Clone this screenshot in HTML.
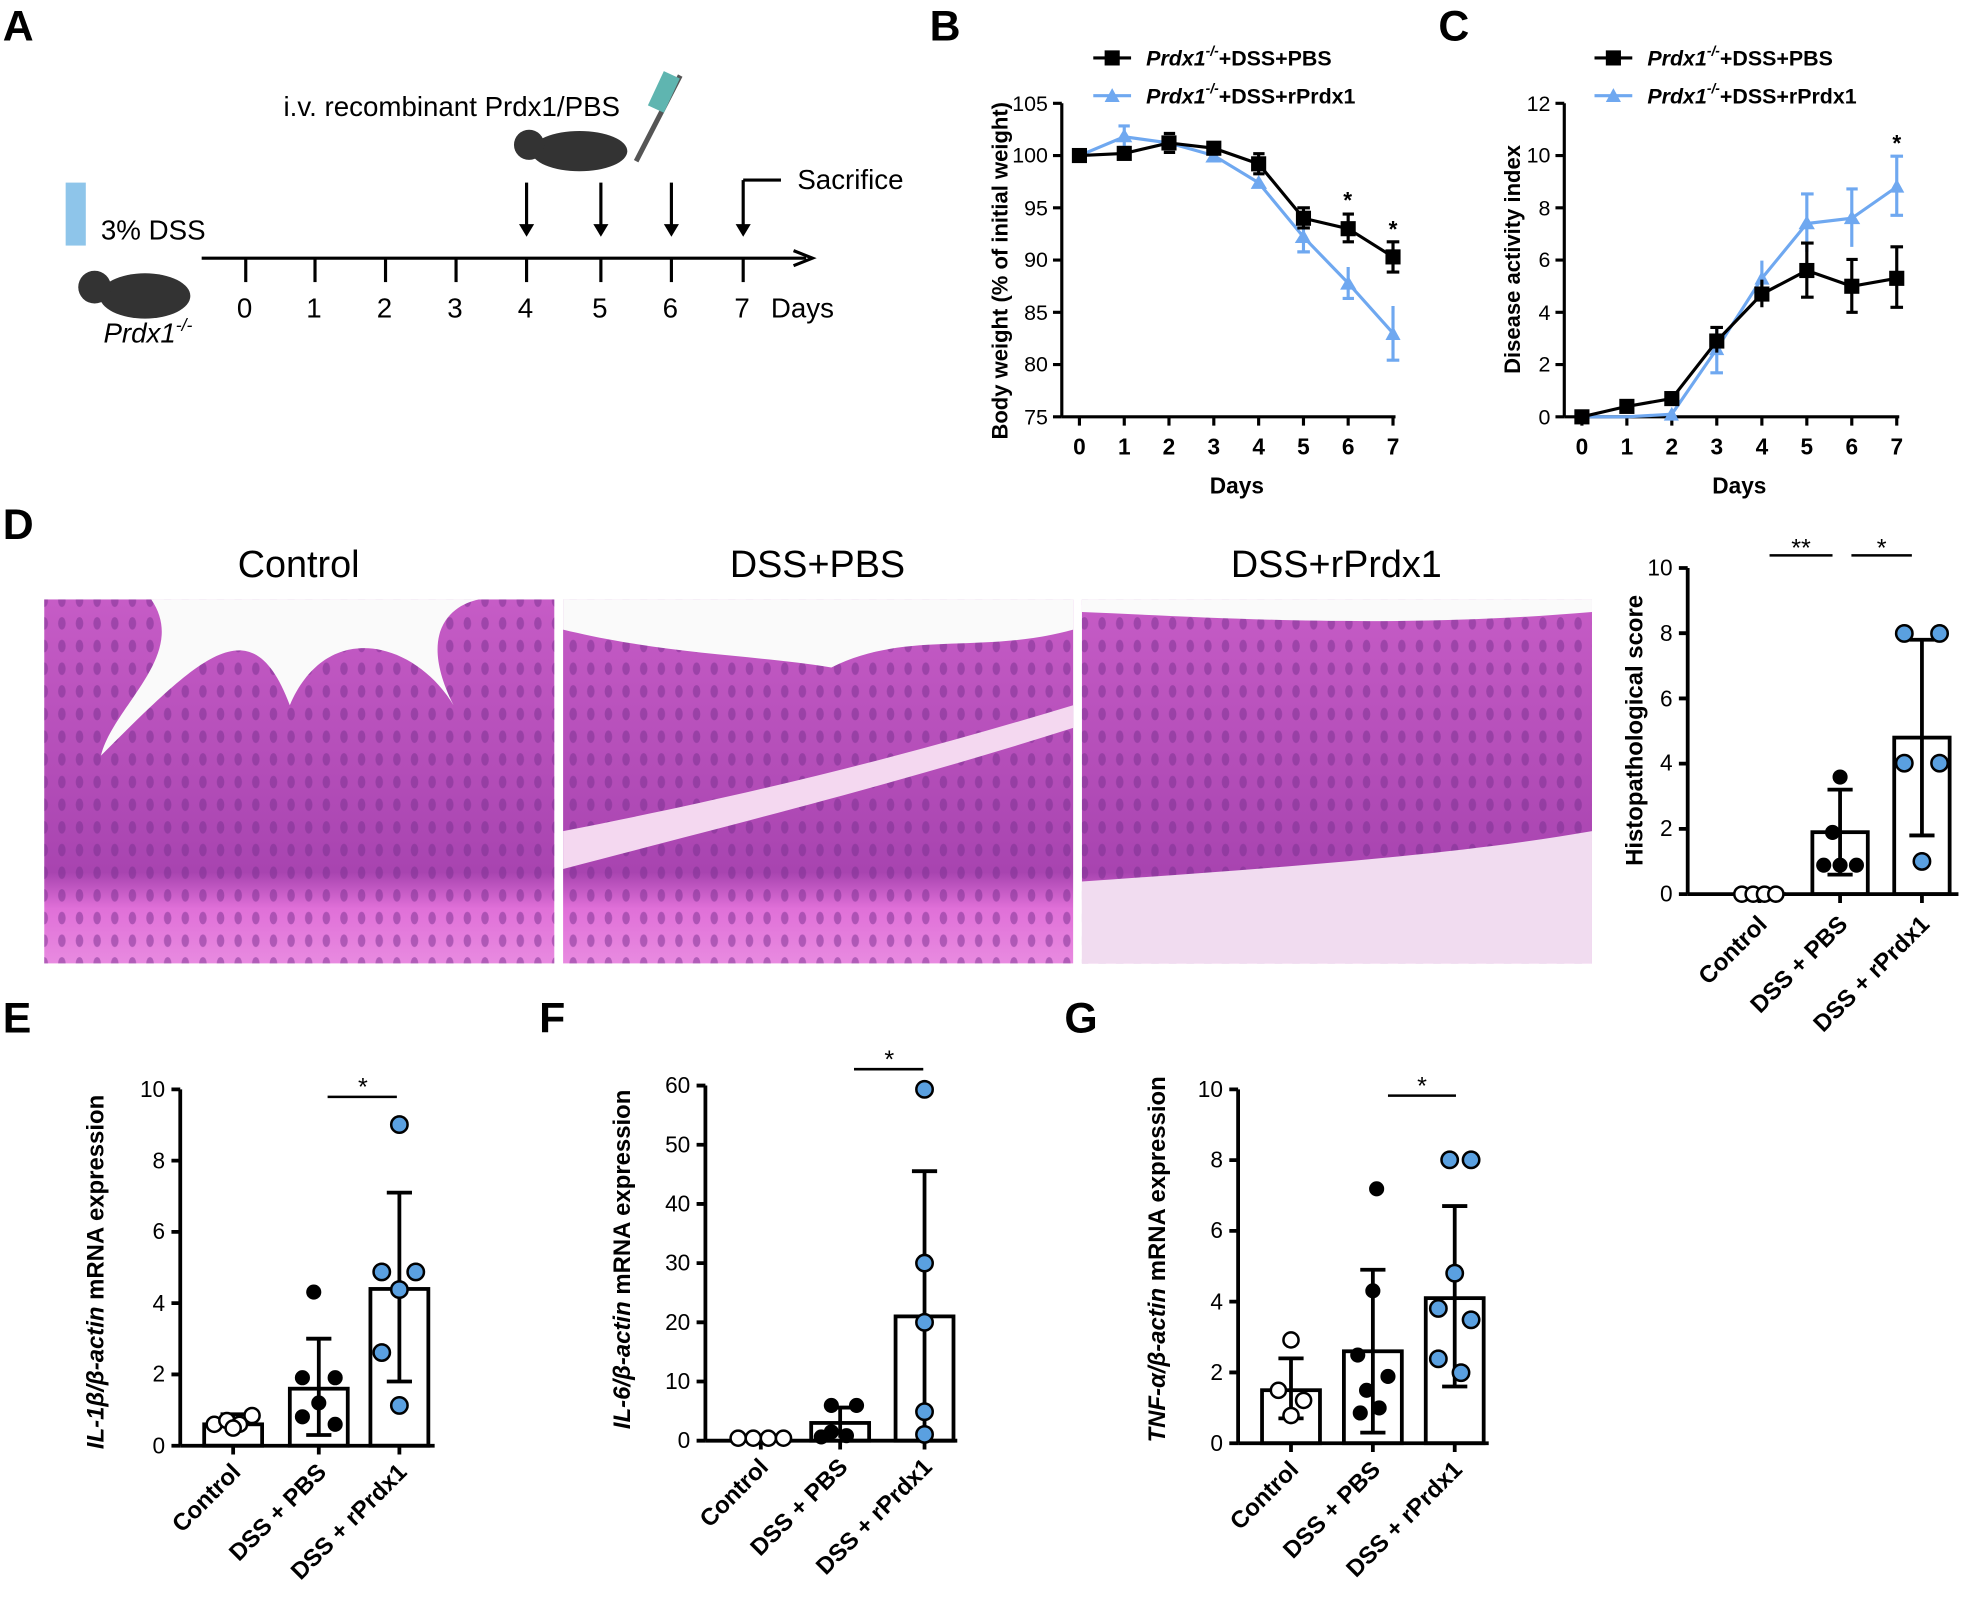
<!DOCTYPE html>
<html><head><meta charset="utf-8"><style>
html,body{margin:0;padding:0;background:#fff}
svg{display:block}
text{font-family:"Liberation Sans",Arial,sans-serif}
</style></head><body>
<svg width="1975" height="1617" viewBox="0 0 1568 1284" xmlns="http://www.w3.org/2000/svg">
<defs>
<linearGradient id="he" x1="0" y1="0" x2="0" y2="1"><stop offset="0" stop-color="#c65cc6"/><stop offset="0.75" stop-color="#a844b0"/><stop offset="0.85" stop-color="#e070d8"/><stop offset="1" stop-color="#e88ae0"/></linearGradient>
<pattern id="cells" width="14" height="18" patternUnits="userSpaceOnUse"><rect width="14" height="18" fill="none"/><ellipse cx="7" cy="9" rx="3" ry="5" fill="#7a3090" opacity="0.5"/></pattern>
</defs>
<g font-weight="bold" font-size="34">
<text x="2" y="32">A</text><text x="738" y="32">B</text><text x="1142" y="32">C</text>
<text x="2" y="428">D</text><text x="2" y="820">E</text><text x="428" y="820">F</text><text x="845" y="820">G</text>
</g>
<!-- Panel A -->
<g stroke="#000" stroke-width="2.5" fill="none">
<line x1="160" y1="205" x2="640" y2="205"/><polyline points="630,199 645,205 630,211"/>
<line x1="195" y1="205" x2="195" y2="224"/><line x1="250" y1="205" x2="250" y2="224"/><line x1="306" y1="205" x2="306" y2="224"/><line x1="362" y1="205" x2="362" y2="224"/><line x1="418" y1="205" x2="418" y2="224"/><line x1="477" y1="205" x2="477" y2="224"/><line x1="533" y1="205" x2="533" y2="224"/><line x1="590" y1="205" x2="590" y2="224"/>
<line x1="418" y1="145" x2="418" y2="183"/><line x1="477" y1="145" x2="477" y2="183"/><line x1="533" y1="145" x2="533" y2="183"/><line x1="590" y1="143" x2="590" y2="183"/><line x1="590" y1="143" x2="620" y2="143"/>
</g>
<g fill="#000"><polygon points="412,178 418,188 424,178"/><polygon points="471,178 477,188 483,178"/><polygon points="527,178 533,188 539,178"/><polygon points="584,178 590,188 596,178"/></g>
<g font-size="22"><text x="188" y="252">0</text><text x="243" y="252">1</text><text x="299" y="252">2</text><text x="355" y="252">3</text><text x="411" y="252">4</text><text x="470" y="252">5</text><text x="526" y="252">6</text><text x="583" y="252">7</text><text x="612" y="252">Days</text>
<text x="633" y="150">Sacrifice</text><text x="225" y="92">i.v. recombinant Prdx1/PBS</text><text x="80" y="190">3% DSS</text><text x="82" y="272" font-style="italic">Prdx1<tspan font-size="14" dy="-9">-/-</tspan></text></g>
<ellipse cx="115" cy="235" rx="36" ry="18" fill="#333"/><circle cx="75" cy="228" r="13" fill="#333"/><rect x="52" y="145" width="16" height="50" fill="#8ec5ea"/>
<ellipse cx="460" cy="120" rx="38" ry="16" fill="#333"/><circle cx="420" cy="115" r="12" fill="#333"/><line x1="505" y1="128" x2="540" y2="60" stroke="#555" stroke-width="4"/><rect x="520" y="58" width="14" height="30" fill="#5fb5b0" transform="rotate(25 527 73)"/>
<!-- Panel B -->
<g stroke="#000" stroke-width="2.5" fill="none">
<line x1="843" y1="82" x2="843" y2="331"/><line x1="843" y1="331" x2="1108" y2="331"/>
<path d="M836 82h7M836 123.5h7M836 165h7M836 206.5h7M836 248h7M836 289.5h7M836 331h7"/>
<path d="M857 331v7M892.6 331v7M928.1 331v7M963.7 331v7M999.3 331v7M1034.9 331v7M1070.4 331v7M1106 331v7"/>
</g>
<g font-size="17" text-anchor="end"><text x="832" y="88">105</text><text x="832" y="129">100</text><text x="832" y="171">95</text><text x="832" y="212">90</text><text x="832" y="254">85</text><text x="832" y="295">80</text><text x="832" y="337">75</text></g>
<g font-size="18" font-weight="bold" text-anchor="middle"><text x="857" y="361">0</text><text x="892.6" y="361">1</text><text x="928.1" y="361">2</text><text x="963.7" y="361">3</text><text x="999.3" y="361">4</text><text x="1034.9" y="361">5</text><text x="1070.4" y="361">6</text><text x="1106" y="361">7</text><text x="982" y="392">Days</text>
<text transform="translate(800 215) rotate(-90)" font-size="17.5">Body weight (% of initial weight)</text><text x="1070" y="165">*</text><text x="1106" y="188">*</text></g>
<g stroke="#6fa8f0" stroke-width="2.5" fill="none"><polyline points="857,123.5 892.6,108.6 928.1,113.5 963.7,123.5 999.3,145.1 1034.9,188.2 1070.4,224.8 1106,264.6"/><path d="M892.6 100v17M1034.9 176v24M1070.4 212v25M1106 243v43M888 100h9M888 117h9M1030 200h10M1066 237h9M1101 286h10"/></g>
<g fill="#6fa8f0"><polygon points="892.6,102 899,113 886,113"/><polygon points="999.3,139 1006,150 993,150"/><polygon points="1034.9,182 1041,193 1028,193"/><polygon points="1070.4,219 1077,230 1064,230"/><polygon points="1106,259 1112,270 1100,270"/><polygon points="963.7,118 970,129 957,129"/></g>
<g stroke="#000" stroke-width="2.5" fill="none"><polyline points="857,123.5 892.6,121.8 928.1,113.5 963.7,117.7 999.3,130.1 1034.9,173.3 1070.4,181.6 1106,204"/><path d="M999.3 122v16M1034.9 165v16M1070.4 170v22M1106 192v24M1030 165h10M1066 170h9M1101 192h10M1101 216h10M1066 192h9M1030 181h10M995 122h9M995 138h9M924 106h9M924 121h9"/></g>
<g fill="#000"><rect x="851" y="117.5" width="12" height="12"/><rect x="886.6" y="115.8" width="12" height="12"/><rect x="922.1" y="107.5" width="12" height="12"/><rect x="957.7" y="111.7" width="12" height="12"/><rect x="993.3" y="124.1" width="12" height="12"/><rect x="1028.9" y="167.3" width="12" height="12"/><rect x="1064.4" y="175.6" width="12" height="12"/><rect x="1100" y="198" width="12" height="12"/></g>
<line x1="868" y1="46" x2="898" y2="46" stroke="#000" stroke-width="2.5"/><rect x="877" y="40" width="12" height="12"/>
<line x1="868" y1="76" x2="898" y2="76" stroke="#6fa8f0" stroke-width="2.5"/><polygon points="883,70 889,81 877,81" fill="#6fa8f0"/>
<g font-size="17" font-weight="bold"><text x="910" y="52"><tspan font-style="italic">Prdx1<tspan font-size="11" dy="-8">-/-</tspan></tspan><tspan dy="8">+DSS+PBS</tspan></text><text x="910" y="82"><tspan font-style="italic">Prdx1<tspan font-size="11" dy="-8">-/-</tspan></tspan><tspan dy="8">+DSS+rPrdx1</tspan></text>
<text x="1308" y="52"><tspan font-style="italic">Prdx1<tspan font-size="11" dy="-8">-/-</tspan></tspan><tspan dy="8">+DSS+PBS</tspan></text><text x="1308" y="82"><tspan font-style="italic">Prdx1<tspan font-size="11" dy="-8">-/-</tspan></tspan><tspan dy="8">+DSS+rPrdx1</tspan></text></g>
<line x1="1266" y1="46" x2="1296" y2="46" stroke="#000" stroke-width="2.5"/><rect x="1275" y="40" width="12" height="12"/>
<line x1="1266" y1="76" x2="1296" y2="76" stroke="#6fa8f0" stroke-width="2.5"/><polygon points="1281,70 1287,81 1275,81" fill="#6fa8f0"/>
<!-- Panel C -->
<g stroke="#000" stroke-width="2.5" fill="none">
<line x1="1242" y1="82" x2="1242" y2="331"/><line x1="1242" y1="331" x2="1508" y2="331"/>
<path d="M1235 82h7M1235 123.5h7M1235 165h7M1235 206.5h7M1235 248h7M1235 289.5h7M1235 331h7"/>
<path d="M1256 331v7M1291.7 331v7M1327.4 331v7M1363.1 331v7M1398.9 331v7M1434.6 331v7M1470.3 331v7M1506 331v7"/>
</g>
<g font-size="17" text-anchor="end"><text x="1231" y="88">12</text><text x="1231" y="129">10</text><text x="1231" y="171">8</text><text x="1231" y="212">6</text><text x="1231" y="254">4</text><text x="1231" y="295">2</text><text x="1231" y="337">0</text></g>
<g font-size="18" font-weight="bold" text-anchor="middle"><text x="1256" y="361">0</text><text x="1291.7" y="361">1</text><text x="1327.4" y="361">2</text><text x="1363.1" y="361">3</text><text x="1398.9" y="361">4</text><text x="1434.6" y="361">5</text><text x="1470.3" y="361">6</text><text x="1506" y="361">7</text><text x="1381" y="392">Days</text>
<text transform="translate(1207 206) rotate(-90)" font-size="17.5">Disease activity index</text><text x="1506" y="120">*</text></g>
<g stroke="#6fa8f0" stroke-width="2.5" fill="none"><polyline points="1256,331 1291.7,331 1327.4,328.9 1363.1,277 1398.9,221 1434.6,177.5 1470.3,173.3 1506,148.4"/><path d="M1363.1 261v35M1398.9 207v28M1434.6 154v46M1470.3 150v46M1506 124v47M1430 154h10M1466 150h9M1501 124h10M1501 171h10M1358 296h10"/></g>
<g fill="#6fa8f0"><polygon points="1363.1,271 1369,282 1357,282"/><polygon points="1398.9,215 1405,226 1393,226"/><polygon points="1434.6,171 1441,182 1428,182"/><polygon points="1470.3,167 1477,178 1464,178"/><polygon points="1506,142 1512,153 1500,153"/><polygon points="1327.4,323 1333,334 1321,334"/></g>
<g stroke="#000" stroke-width="2.5" fill="none"><polyline points="1256,331 1291.7,322.7 1327.4,316.5 1363.1,270.8 1398.9,233.5 1434.6,214.8 1470.3,227.3 1506,221"/><path d="M1363.1 260v20M1398.9 222v22M1434.6 193v43M1470.3 206v42M1506 196v48M1430 193h10M1430 236h10M1466 206h9M1466 248h9M1501 196h10M1501 244h10M1358 260h10"/></g>
<g fill="#000"><rect x="1250" y="325" width="12" height="12"/><rect x="1285.7" y="316.7" width="12" height="12"/><rect x="1321.4" y="310.5" width="12" height="12"/><rect x="1357.1" y="264.8" width="12" height="12"/><rect x="1392.9" y="227.5" width="12" height="12"/><rect x="1428.6" y="208.8" width="12" height="12"/><rect x="1464.3" y="221.3" width="12" height="12"/><rect x="1500" y="215" width="12" height="12"/></g>
<!-- Panel D images -->
<g font-size="30" text-anchor="middle"><text x="237" y="458">Control</text><text x="649" y="458">DSS+PBS</text><text x="1061" y="458">DSS+rPrdx1</text></g>
<rect x="35" y="476" width="405" height="289" fill="url(#he)"/><rect x="35" y="476" width="405" height="289" fill="url(#cells)"/>
<path d="M120 476 C150 520 90 560 80 600 C160 520 200 480 230 560 C260 490 330 510 360 560 C330 500 360 480 380 476Z" fill="#fafafa"/>
<rect x="447" y="476" width="405" height="289" fill="url(#he)"/><rect x="447" y="476" width="405" height="289" fill="url(#cells)"/>
<path d="M447 476 L852 476 L852 500 C780 520 720 500 660 530 C600 520 530 520 447 500Z" fill="#fafafa"/><path d="M447 660 C600 630 720 600 852 560 L852 578 C720 620 600 650 447 690Z" fill="#f4d8f0"/>
<rect x="859" y="476" width="405" height="289" fill="url(#he)"/><rect x="859" y="476" width="405" height="289" fill="url(#cells)"/>
<path d="M859 476 L1264 476 L1264 486 C1100 500 960 490 859 486Z" fill="#fafafa"/><path d="M859 700 C1000 690 1150 680 1264 660 L1264 765 L859 765Z" fill="#f1dcf0"/>
<!-- Histo chart -->
<g stroke="#000" stroke-width="3" fill="none">
<line x1="1340" y1="451" x2="1340" y2="710"/><line x1="1340" y1="710" x2="1555" y2="710"/>
<path d="M1333 451h7M1333 502.8h7M1333 554.6h7M1333 606.4h7M1333 658.2h7M1333 710h7M1397 710v7M1461 710v7M1526 710v7"/>
<rect x="1439" y="660.8" width="44" height="49.2"/><rect x="1504" y="585.7" width="44" height="124.3"/>
<path d="M1461 627v67.5M1451 627h20M1451 694.5h20M1526 508v155.4M1516 508h20M1516 663.4h20M1376 710h42"/>
<path d="M1405 441h50M1470 441h48" stroke-width="2"/>
</g>
<g font-size="18" text-anchor="end"><text x="1328" y="457">10</text><text x="1328" y="509">8</text><text x="1328" y="561">6</text><text x="1328" y="612">4</text><text x="1328" y="664">2</text><text x="1328" y="716">0</text></g>
<g font-size="20" text-anchor="middle"><text x="1430" y="442">**</text><text x="1494" y="442">*</text></g>
<text font-size="19" font-weight="bold" transform="translate(1304 580) rotate(-90)" text-anchor="middle">Histopathological score</text>
<g fill="#fff" stroke="#000" stroke-width="2"><circle cx="1383" cy="710" r="6"/><circle cx="1392" cy="710" r="6"/><circle cx="1401" cy="710" r="6"/><circle cx="1410" cy="710" r="6"/></g>
<g fill="#000"><circle cx="1461" cy="617" r="6"/><circle cx="1448" cy="687" r="6"/><circle cx="1461" cy="687" r="6"/><circle cx="1474" cy="687" r="6"/><circle cx="1455" cy="661" r="6"/></g>
<g fill="#5aa0e0" stroke="#000" stroke-width="2"><circle cx="1512" cy="503" r="6.5"/><circle cx="1540" cy="503" r="6.5"/><circle cx="1512" cy="606" r="6.5"/><circle cx="1540" cy="606" r="6.5"/><circle cx="1526" cy="684" r="6.5"/></g>
<g font-size="19" font-weight="bold" text-anchor="end"><text transform="translate(1404 735) rotate(-45)">Control</text><text transform="translate(1468 735) rotate(-45)">DSS + PBS</text><text transform="translate(1533 735) rotate(-45)">DSS + rPrdx1</text></g>
<!-- Panel E -->
<g stroke="#000" stroke-width="3" fill="none">
<line x1="143" y1="865" x2="143" y2="1148"/><line x1="143" y1="1148" x2="345" y2="1148"/>
<path d="M136 865h7M136 921.6h7M136 978.2h7M136 1034.8h7M136 1091.4h7M136 1148h7M185 1148v7M253 1148v7M317 1148v7"/>
<rect x="162" y="1131" width="46" height="17"/><rect x="230" y="1102.7" width="46" height="45.3"/><rect x="294" y="1023.5" width="46" height="124.5"/>
<path d="M185 1123v14M175 1123h20M253 1063v76.5M243 1063h20M243 1139.5h20M317 947v150M307 947h20M307 1097h20"/><path d="M260 871h55" stroke-width="2"/>
</g>
<g font-size="18" text-anchor="end"><text x="131" y="871">10</text><text x="131" y="928">8</text><text x="131" y="984">6</text><text x="131" y="1041">4</text><text x="131" y="1097">2</text><text x="131" y="1154">0</text></g>
<text x="288" y="870" font-size="20" text-anchor="middle">*</text>
<text font-size="19" font-weight="bold" transform="translate(82 1010) rotate(-90)" text-anchor="middle"><tspan font-style="italic">IL-1β/β-actin</tspan> mRNA expression</text>
<g fill="#fff" stroke="#000" stroke-width="2"><circle cx="170" cy="1131" r="6"/><circle cx="180" cy="1128" r="6"/><circle cx="190" cy="1131" r="6"/><circle cx="200" cy="1124" r="6"/><circle cx="185" cy="1134" r="6"/></g>
<g fill="#000"><circle cx="249" cy="1026" r="6"/><circle cx="240" cy="1094" r="6"/><circle cx="266" cy="1094" r="6"/><circle cx="253" cy="1114" r="6"/><circle cx="240" cy="1125" r="6"/><circle cx="266" cy="1131" r="6"/></g>
<g fill="#5aa0e0" stroke="#000" stroke-width="2"><circle cx="317" cy="893" r="6.5"/><circle cx="303" cy="1010" r="6.5"/><circle cx="330" cy="1010" r="6.5"/><circle cx="317" cy="1024" r="6.5"/><circle cx="303" cy="1074" r="6.5"/><circle cx="317" cy="1116" r="6.5"/></g>
<g font-size="19" font-weight="bold" text-anchor="end"><text transform="translate(192 1170) rotate(-45)">Control</text><text transform="translate(260 1170) rotate(-45)">DSS + PBS</text><text transform="translate(324 1170) rotate(-45)">DSS + rPrdx1</text></g>
<!-- Panel F -->
<g stroke="#000" stroke-width="3" fill="none">
<line x1="560" y1="862" x2="560" y2="1144"/><line x1="560" y1="1144" x2="760" y2="1144"/>
<path d="M553 862h7M553 909h7M553 956h7M553 1003h7M553 1050h7M553 1097h7M553 1144h7M604 1144v7M667 1144v7M734 1144v7"/>
<rect x="581" y="1142.6" width="46" height="1.4"/><rect x="644" y="1129.9" width="46" height="14.1"/><rect x="711" y="1045.3" width="46" height="98.7"/>
<path d="M667 1117.7v24M657 1117.7h20M734 930v214M724 930h20"/><path d="M678 849h55" stroke-width="2"/>
</g>
<g font-size="18" text-anchor="end"><text x="548" y="868">60</text><text x="548" y="915">50</text><text x="548" y="962">40</text><text x="548" y="1009">30</text><text x="548" y="1056">20</text><text x="548" y="1103">10</text><text x="548" y="1150">0</text></g>
<text x="706" y="848" font-size="20" text-anchor="middle">*</text>
<text font-size="19" font-weight="bold" transform="translate(500 1000) rotate(-90)" text-anchor="middle"><tspan font-style="italic">IL-6/β-actin</tspan> mRNA expression</text>
<g fill="#fff" stroke="#000" stroke-width="2"><circle cx="586" cy="1142" r="6"/><circle cx="598" cy="1142" r="6"/><circle cx="610" cy="1142" r="6"/><circle cx="622" cy="1142" r="6"/></g>
<g fill="#000"><circle cx="660" cy="1116" r="6"/><circle cx="680" cy="1116" r="6"/><circle cx="660" cy="1137" r="6"/><circle cx="672" cy="1140" r="6"/><circle cx="652" cy="1141" r="6"/></g>
<g fill="#5aa0e0" stroke="#000" stroke-width="2"><circle cx="734" cy="865" r="6.5"/><circle cx="734" cy="1003" r="6.5"/><circle cx="734" cy="1050" r="6.5"/><circle cx="734" cy="1121" r="6.5"/><circle cx="734" cy="1139" r="6.5"/></g>
<g font-size="19" font-weight="bold" text-anchor="end"><text transform="translate(611 1166) rotate(-45)">Control</text><text transform="translate(674 1166) rotate(-45)">DSS + PBS</text><text transform="translate(741 1166) rotate(-45)">DSS + rPrdx1</text></g>
<!-- Panel G -->
<g stroke="#000" stroke-width="3" fill="none">
<line x1="983" y1="865" x2="983" y2="1146"/><line x1="983" y1="1146" x2="1182" y2="1146"/>
<path d="M976 865h7M976 921.2h7M976 977.4h7M976 1033.6h7M976 1089.8h7M976 1146h7M1025 1146v7M1090 1146v7M1155 1146v7"/>
<rect x="1002" y="1103.9" width="46" height="42.1"/><rect x="1067" y="1073" width="46" height="73"/><rect x="1132" y="1030.8" width="46" height="115.2"/>
<path d="M1025 1078.6v47.7M1015 1078.6h20M1015 1126.3h20M1090 1008.3v129.3M1080 1008.3h20M1080 1137.6h20M1155 957.7v143.3M1145 957.7h20M1145 1101h20"/><path d="M1102 870h54" stroke-width="2"/>
</g>
<g font-size="18" text-anchor="end"><text x="971" y="871">10</text><text x="971" y="927">8</text><text x="971" y="983">6</text><text x="971" y="1040">4</text><text x="971" y="1096">2</text><text x="971" y="1152">0</text></g>
<text x="1129" y="869" font-size="20" text-anchor="middle">*</text>
<text font-size="19" font-weight="bold" transform="translate(925 1000) rotate(-90)" text-anchor="middle"><tspan font-style="italic">TNF-α/β-actin</tspan> mRNA expression</text>
<g fill="#fff" stroke="#000" stroke-width="2"><circle cx="1025" cy="1064" r="6"/><circle cx="1015" cy="1104" r="6"/><circle cx="1035" cy="1112" r="6"/><circle cx="1025" cy="1124" r="6"/></g>
<g fill="#000"><circle cx="1093" cy="944" r="6"/><circle cx="1090" cy="1025" r="6"/><circle cx="1078" cy="1076" r="6"/><circle cx="1102" cy="1093" r="6"/><circle cx="1085" cy="1104" r="6"/><circle cx="1095" cy="1118" r="6"/><circle cx="1080" cy="1122" r="6"/></g>
<g fill="#5aa0e0" stroke="#000" stroke-width="2"><circle cx="1151" cy="921" r="6.5"/><circle cx="1168" cy="921" r="6.5"/><circle cx="1155" cy="1011" r="6.5"/><circle cx="1142" cy="1039" r="6.5"/><circle cx="1168" cy="1048" r="6.5"/><circle cx="1142" cy="1079" r="6.5"/><circle cx="1160" cy="1090" r="6.5"/></g>
<g font-size="19" font-weight="bold" text-anchor="end"><text transform="translate(1032 1168) rotate(-45)">Control</text><text transform="translate(1097 1168) rotate(-45)">DSS + PBS</text><text transform="translate(1162 1168) rotate(-45)">DSS + rPrdx1</text></g>
</svg>
</body></html>
